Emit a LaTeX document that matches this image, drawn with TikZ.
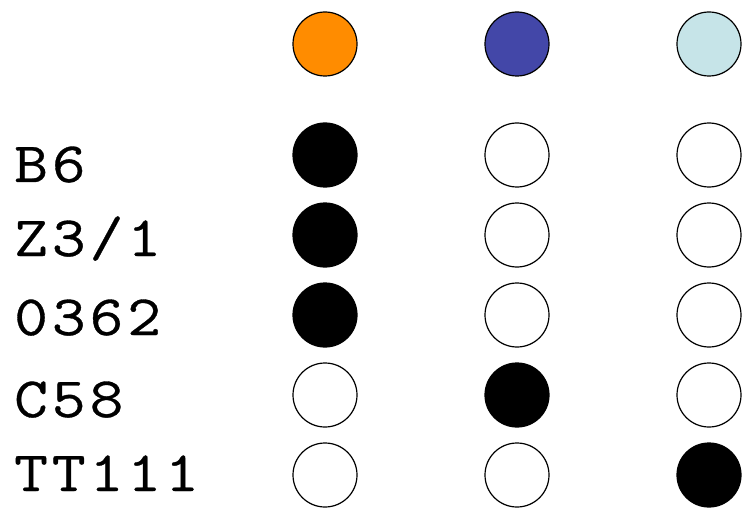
\documentclass[tikz,border=0pt]{standalone}
\usepackage{fontspec}
\newfontfamily\lblfont{Latin Modern Mono}[FakeStretch=1.15,LetterSpace=7,FakeBold=0.6]
\definecolor{dotorange}{HTML}{FF8C00}
\definecolor{dotblue}{HTML}{4347A8}
\definecolor{dotcyan}{HTML}{C6E4E8}
\begin{document}
\begin{tikzpicture}[x=1pt,y=-1pt,
  dot/.style={circle,draw=black,line width=1.2pt,minimum size=64pt,inner sep=0pt},
  on/.style={dot,fill=black},
  off/.style={dot,fill=white},
  lbl/.style={anchor=base west,inner sep=0pt,font=\lblfont\fontsize{57}{57}\selectfont}]
\useasboundingbox (0,0) rectangle (747,508);
% column headers
\node[dot,fill=dotorange] (h1) at (325,44) {};
\node[dot,fill=dotblue]   (h2) at (517,44) {};
\node[dot,fill=dotcyan]   (h3) at (709,44) {};
% row labels
\node[lbl] (lB6)   at (14,182) {B6};
\node[lbl] (lZ)    at (14,256) {Z3/1};
\node[lbl] (l0362) at (14,335) {0362};
\node[lbl] (lC58)  at (14,417) {C58};
\node[lbl] (lTT)   at (14,491) {TT111};
% grid of dots
\node[on]  (a1) at (325,155) {}; \node[off] (b1) at (517,155) {}; \node[off] (c1) at (709,155) {};
\node[on]  (a2) at (325,235) {}; \node[off] (b2) at (517,235) {}; \node[off] (c2) at (709,235) {};
\node[on]  (a3) at (325,315) {}; \node[off] (b3) at (517,315) {}; \node[off] (c3) at (709,315) {};
\node[off] (a4) at (325,395) {}; \node[on]  (b4) at (517,395) {}; \node[off] (c4) at (709,395) {};
\node[off] (a5) at (325,475) {}; \node[off] (b5) at (517,475) {}; \node[on]  (c5) at (709,475) {};
\end{tikzpicture}
\end{document}
